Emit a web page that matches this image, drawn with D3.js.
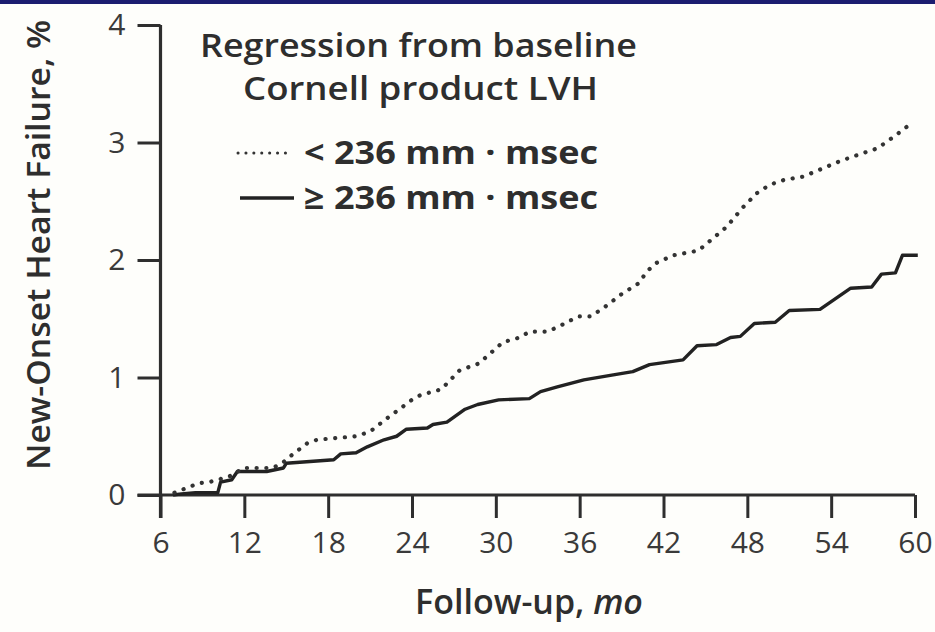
<!DOCTYPE html>
<html>
<head>
<meta charset="utf-8">
<script src="https://cdn.jsdelivr.net/npm/d3@7"></script>
<style>
    html, body { margin: 0; padding: 0; background: #fefefb; }
    svg { display: block; }
</style>
</head>
<body>
<svg id="chart" width="935" height="632"></svg>
<script>
// Tick labels
var xTicks = [6, 12, 18, 24, 30, 36, 42, 48, 54, 60];
var yTicks = [0, 1, 2, 3, 4];

// Regression < 236 mm·msec (dotted) - [month, percent]
var lowMonths = [7.0, 8.1, 8.7, 9.5, 10.4, 11.2, 11.9, 13.1, 14.0, 14.7, 15.5, 16.5, 17.2, 20.0, 21.0, 22.4, 23.1, 24.1, 24.6, 26.1, 27.4, 28.8, 30.5, 31.7, 32.4, 33.7, 34.6, 35.9, 36.8, 37.8, 39.0, 40.2, 40.8, 41.4, 42.7, 44.5, 45.3, 46.5, 47.7, 48.7, 49.6, 50.6, 52.0, 53.2, 54.6, 55.8, 57.3, 58.5, 59.7];
var lowValues = [0.02, 0.07, 0.10, 0.11, 0.14, 0.17, 0.23, 0.23, 0.23, 0.27, 0.35, 0.44, 0.47, 0.50, 0.54, 0.67, 0.73, 0.82, 0.85, 0.90, 1.06, 1.12, 1.30, 1.34, 1.39, 1.39, 1.44, 1.52, 1.52, 1.60, 1.71, 1.80, 1.90, 1.97, 2.04, 2.08, 2.16, 2.28, 2.45, 2.57, 2.64, 2.68, 2.71, 2.77, 2.84, 2.89, 2.95, 3.05, 3.16];

// Regression >= 236 mm·msec (solid)
var highMonths = [6.9, 7.5, 8.5, 10.1, 10.3, 11.1, 11.5, 13.6, 14.8, 15.0, 18.4, 18.9, 20.0, 20.8, 22.0, 22.9, 23.6, 25.1, 25.5, 26.5, 27.8, 28.7, 30.2, 32.4, 33.2, 34.4, 36.3, 38.3, 39.8, 41.0, 43.4, 44.4, 45.8, 46.8, 47.5, 48.5, 50.0, 51.0, 53.2, 55.4, 56.9, 57.6, 58.6, 59.1, 60.2];
var highValues = [0.00, 0.01, 0.02, 0.02, 0.11, 0.13, 0.20, 0.20, 0.23, 0.27, 0.30, 0.35, 0.36, 0.41, 0.47, 0.50, 0.56, 0.57, 0.60, 0.62, 0.73, 0.77, 0.81, 0.82, 0.88, 0.92, 0.98, 1.02, 1.05, 1.11, 1.15, 1.27, 1.28, 1.34, 1.35, 1.46, 1.47, 1.57, 1.58, 1.76, 1.77, 1.88, 1.89, 2.04, 2.04];

// Legend texts
var titleLines = ["Regression from baseline", "Cornell product LVH"];
var seriesLabels = ["< 236 mm \u00b7 msec", "\u2265 236 mm \u00b7 msec"];

var svg = d3.select("#chart");
var ink = "#2e2e2e";
var fontFamily = "'Open Sans', 'Noto Sans', sans-serif";

// Dark band across the top of the slide
svg.append("rect")
    .attr("x", 0).attr("y", 0)
    .attr("width", 935).attr("height", 4)
    .style("fill", "#1c1d70");

// Scales
var x = d3.scaleLinear().domain([6, 60]).range([160.5, 915]);
var y = d3.scaleLinear().domain([0, 4]).range([495, 25]);
var tickLen = 23;

// Y axis
var yAxis = svg.append("g")
    .attr("transform", "translate(" + x(6) + ",0)")
    .call(d3.axisLeft(y).tickValues(yTicks).tickSize(tickLen).tickPadding(12).tickFormat(d3.format("d")));

// X axis
var xAxis = svg.append("g")
    .attr("transform", "translate(0," + y(0) + ")")
    .call(d3.axisBottom(x).tickValues(xTicks).tickSize(tickLen).tickPadding(14).tickFormat(d3.format("d")));

// Style both axes the same way, drop the default domain paths
[xAxis, yAxis].forEach(function (a) {
    a.select(".domain").remove();
    a.selectAll(".tick line")
        .style("stroke", ink)
        .style("stroke-width", 3);
    a.selectAll(".tick text")
        .style("font-family", fontFamily)
        .style("font-size", "30px")
        .style("fill", "#3a3a3a");
});

// Axis lines: x runs out to the left tick, y runs down to the first x tick
svg.append("line")
    .attr("x1", x(6) - tickLen).attr("x2", x(60))
    .attr("y1", y(0)).attr("y2", y(0))
    .style("stroke", ink).style("stroke-width", 3.2);
svg.append("line")
    .attr("x1", x(6)).attr("x2", x(6))
    .attr("y1", y(4)).attr("y2", y(0) + tickLen)
    .style("stroke", ink).style("stroke-width", 3.2);

// Build the point lists from the arrays
var lowData = lowMonths.map(function (m, i) { return [m, lowValues[i]]; });
var highData = highMonths.map(function (m, i) { return [m, highValues[i]]; });

var line = d3.line()
    .x(function (d) { return x(d[0]); })
    .y(function (d) { return y(d[1]); });

// Solid curve
svg.append("path")
    .datum(highData)
    .attr("d", line)
    .style("fill", "none")
    .style("stroke", "#222")
    .style("stroke-width", 3.4)
    .style("stroke-linejoin", "round");

// Dotted curve
svg.append("path")
    .datum(lowData)
    .attr("d", line)
    .style("fill", "none")
    .style("stroke", "#333")
    .style("stroke-width", 4.2)
    .style("stroke-linecap", "round")
    .style("stroke-dasharray", "0.1, 9.6");

// Legend title
var title = svg.append("g")
    .style("font-family", fontFamily)
    .style("font-weight", 600)
    .style("fill", ink);

title.append("text")
    .attr("x", 200).attr("y", 57)
    .attr("textLength", 437).attr("lengthAdjust", "spacingAndGlyphs")
    .style("font-size", "33px")
    .text(titleLines[0]);
title.append("text")
    .attr("x", 243).attr("y", 100)
    .attr("textLength", 355).attr("lengthAdjust", "spacingAndGlyphs")
    .style("font-size", "33px")
    .text(titleLines[1]);

// Legend entries
var legendY = [153, 198];
svg.append("line")
    .attr("x1", 238).attr("x2", 293)
    .attr("y1", legendY[0]).attr("y2", legendY[0])
    .style("stroke", "#333").style("stroke-width", 3)
    .style("stroke-linecap", "round")
    .style("stroke-dasharray", "0.1, 7.8");
svg.append("line")
    .attr("x1", 240).attr("x2", 294)
    .attr("y1", legendY[1]).attr("y2", legendY[1])
    .style("stroke", "#222").style("stroke-width", 3.4);

seriesLabels.forEach(function (s, i) {
    title.append("text")
        .attr("x", 304).attr("y", legendY[i] + 11)
        .attr("textLength", 294).attr("lengthAdjust", "spacingAndGlyphs")
        .style("font-size", "33px")
        .style("font-weight", 700)
        .text(s);
});

// Axis titles
svg.append("text")
    .attr("transform", "translate(50,245) rotate(-90)")
    .attr("text-anchor", "middle")
    .attr("textLength", 450).attr("lengthAdjust", "spacingAndGlyphs")
    .style("font-family", fontFamily)
    .style("font-weight", 600)
    .style("font-size", "33px")
    .style("fill", ink)
    .text("New-Onset Heart Failure, %");

var xLabel = svg.append("text")
    .attr("x", 529).attr("y", 614)
    .attr("text-anchor", "middle")
    .style("font-family", fontFamily)
    .style("font-weight", 600)
    .style("font-size", "34px")
    .style("fill", ink);
xLabel.append("tspan").text("Follow-up, ");
xLabel.append("tspan").style("font-style", "italic").text("mo");
</script>
</body>
</html>
